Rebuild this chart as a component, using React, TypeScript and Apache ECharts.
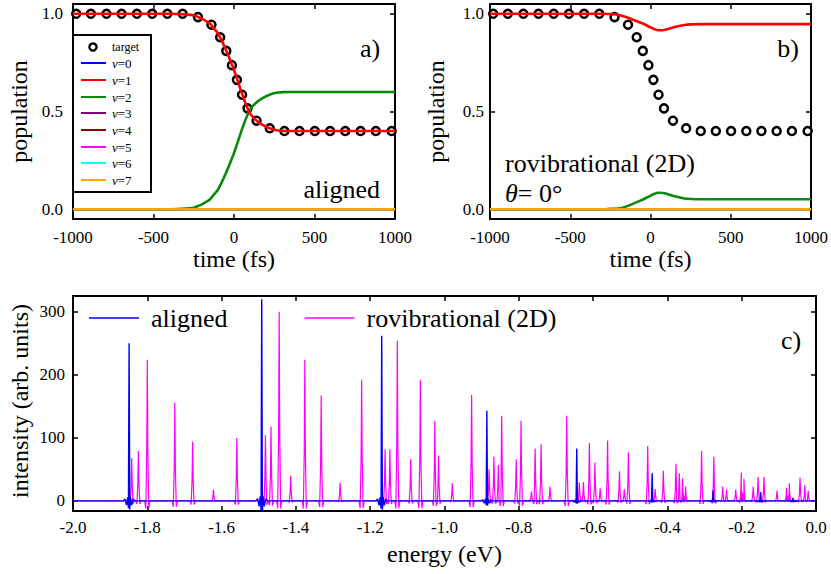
import React, { useEffect, useRef } from "react";
import * as echarts from "echarts";

const FONT = "'Liberation Serif', serif";

// ---- panel a / b data ----
const targetTime = [-980, -889, -792, -698, -603, -508, -414, -319, -224, -140, -86, -48, -13, 18, 50, 84, 140, 222, 313, 407, 502, 597, 691, 786, 881, 979];
const targetPop = [1, 1, 1, 1, 1, 1, 1, 1, 0.983, 0.944, 0.88, 0.81, 0.737, 0.662, 0.586, 0.516, 0.453, 0.414, 0.4, 0.4, 0.4, 0.4, 0.4, 0.4, 0.4, 0.4];

const timeA = [-1000, -400, -300, -250, -225, -200, -175, -150, -125, -100, -75, -50, -25, 0, 25, 50, 75, 100, 125, 150, 175, 200, 225, 250, 275, 300, 350, 1000];
const redA = [1, 1, 0.997, 0.992, 0.984, 0.975, 0.963, 0.95, 0.925, 0.9, 0.86, 0.815, 0.765, 0.712, 0.652, 0.59, 0.535, 0.49, 0.465, 0.447, 0.433, 0.422, 0.413, 0.407, 0.403, 0.401, 0.4, 0.4];
const greenA = [0, 0, 0.003, 0.008, 0.016, 0.025, 0.037, 0.05, 0.075, 0.1, 0.14, 0.185, 0.235, 0.288, 0.348, 0.41, 0.465, 0.51, 0.535, 0.553, 0.567, 0.578, 0.587, 0.593, 0.597, 0.599, 0.6, 0.6];

const timeB = [-1000, -300, -250, -200, -158, -100, -60, -35, 0, 25, 47, 75, 100, 150, 212, 260, 300, 1000];
const redB = [1, 1, 0.998, 0.995, 0.985, 0.967, 0.954, 0.945, 0.93, 0.921, 0.916, 0.916, 0.92, 0.932, 0.943, 0.946, 0.947, 0.947];
const greenB = [0, 0, 0.002, 0.004, 0.012, 0.031, 0.045, 0.055, 0.07, 0.079, 0.084, 0.083, 0.079, 0.066, 0.055, 0.052, 0.051, 0.051];

const timeZero = [-1000, 1000];
const popZero = [0, 0];

const levelLabels = ["0", "1", "2", "3", "4", "5", "6", "7"];
const levelColors = ["#0000ff", "#ff0000", "#0a8a0a", "#800080", "#8b0000", "#ff00ff", "#00ffff", "#ffa500"];

const popTicks = [0, 0.5, 1];

// ---- panel c data ----
const alignedEnergy = [-1.849, -1.492, -1.169, -0.886, -0.644, -0.441, -0.277, -0.149, -0.062];
const alignedIntensity = [250, 320, 262, 143, 83, 44, 17, 14, 5];

const rovibEnergy = [-1.842, -1.824, -1.8, -1.726, -1.678, -1.622, -1.559, -1.482, -1.467, -1.445, -1.414, -1.376, -1.332, -1.281, -1.223, -1.16, -1.147, -1.127, -1.091, -1.065, -1.026, -1.016, -0.979, -0.927, -0.88, -0.867, -0.855, -0.846, -0.807, -0.794, -0.766, -0.756, -0.74, -0.716, -0.671, -0.637, -0.626, -0.61, -0.595, -0.581, -0.561, -0.529, -0.516, -0.505, -0.453, -0.433, -0.411, -0.377, -0.368, -0.359, -0.351, -0.308, -0.275, -0.251, -0.241, -0.216, -0.201, -0.194, -0.169, -0.156, -0.14, -0.105, -0.079, -0.072, -0.043, -0.03, -0.021];
const rovibIntensity = [68, 79, 224, 156, 94, 18, 100, 104, 118, 300, 40, 224, 167, 29, 192, 82, 82, 254, 66, 192, 127, 72, 28, 168, 50, 70, 57, 135, 66, 127, 15, 83, 90, 23, 135, 29, 30, 92, 61, 20, 96, 47, 19, 77, 87, 19, 48, 59, 44, 36, 23, 79, 70, 23, 18, 18, 45, 35, 23, 38, 38, 16, 21, 28, 37, 25, 16];

const energyRange = [-2, 0];
const intensityTicks = [0, 100, 200, 300];

function spikeLine(energy: number[], height: number[], ringing: boolean): number[][] {
  const pts: number[][] = [[energyRange[0], 0], [energyRange[1], 0]];
  energy.forEach((e, i) => {
    const h = height[i];
    if (ringing) {
      const s = Math.max(0.15, h / 260);
      pts.push(
        [e - 0.016, 0], [e - 0.011, 3 * s], [e - 0.007, -7 * s], [e - 0.004, 6 * s], [e - 0.0018, -12 * s],
        [e, h],
        [e + 0.0018, -14 * s], [e + 0.004, 6 * s], [e + 0.007, -7 * s], [e + 0.011, 3 * s], [e + 0.016, 0]
      );
    } else {
      const d = Math.min(12, h * 0.06);
      pts.push([e - 0.007, 0], [e - 0.004, -d], [e - 0.0015, h * 0.35], [e, h], [e + 0.0015, h * 0.35], [e + 0.004, -d], [e + 0.007, 0]);
    }
  });
  pts.sort((p, q) => p[0] - q[0]);
  return pts;
}

const zip = (xs: number[], ys: number[]) => xs.map((x, i) => [x, ys[i]]);

export default function App() {
  const ref = useRef<HTMLDivElement>(null);
  useEffect(() => {
    if (!ref.current) return;
    const chart = echarts.init(ref.current, undefined, { renderer: "svg" });

    const axisLine = { show: true, onZero: false, lineStyle: { color: "#000", width: 2 } };
    const tick = (vals?: number[]) => ({
      show: true,
      inside: true,
      length: 5,
      lineStyle: { color: "#000", width: 1.5 },
      ...(vals ? { customValues: vals } : {}),
    });
    const lbl = { color: "#000", fontSize: 17, fontFamily: FONT };
    const nameStyle = { color: "#000", fontSize: 24, fontFamily: FONT };

    const xTime = (gi: number) => [
      {
        type: "value", gridIndex: gi, position: "bottom", min: -1000, max: 1000, interval: 500,
        axisLine, axisTick: tick(), splitLine: { show: false },
        axisLabel: { ...lbl, margin: 10, formatter: (v: number) => String(v) },
        name: "time (fs)", nameLocation: "middle", nameGap: 24, nameTextStyle: nameStyle,
      },
      {
        type: "value", gridIndex: gi, position: "top", min: -1000, max: 1000, interval: 500,
        axisLine, axisTick: tick(), splitLine: { show: false }, axisLabel: { show: false },
      },
    ];
    const yPop = (gi: number, margin: number, gap: number) => [
      {
        type: "value", gridIndex: gi, position: "left", min: -0.05, max: 1.05,
        axisLine, axisTick: tick(popTicks), splitLine: { show: false },
        axisLabel: { ...lbl, margin, customValues: popTicks, formatter: (v: number) => v.toFixed(1) },
        name: "population", nameLocation: "middle", nameGap: gap, nameTextStyle: nameStyle,
      },
      {
        type: "value", gridIndex: gi, position: "right", min: -0.05, max: 1.05,
        axisLine, axisTick: tick(popTicks), splitLine: { show: false },
        axisLabel: { show: false, customValues: popTicks },
      },
    ];

    const xAxis = [
      ...xTime(0),
      ...xTime(1),
      {
        type: "value", gridIndex: 2, position: "bottom", min: -2, max: 0, interval: 0.2,
        axisLine, axisTick: tick(), splitLine: { show: false },
        axisLabel: { ...lbl, margin: 8, formatter: (v: number) => (Math.abs(v) < 1e-9 ? "0.0" : v.toFixed(1)) },
        name: "energy (eV)", nameLocation: "middle", nameGap: 31, nameTextStyle: nameStyle,
      },
      {
        type: "value", gridIndex: 2, position: "top", min: -2, max: 0, interval: 0.2,
        axisLine, axisTick: tick(), splitLine: { show: false }, axisLabel: { show: false },
      },
    ];
    const yAxis = [
      ...yPop(0, 10, 42),
      ...yPop(1, 6, 42),
      {
        type: "value", gridIndex: 2, position: "left", min: -16, max: 325,
        axisLine, axisTick: tick(intensityTicks), splitLine: { show: false },
        axisLabel: { ...lbl, margin: 8, customValues: intensityTicks },
      },
      {
        type: "value", gridIndex: 2, position: "right", min: -16, max: 325,
        axisLine, axisTick: tick(intensityTicks), splitLine: { show: false },
        axisLabel: { show: false, customValues: intensityTicks },
      },
    ];

    const popSeries = (xi: number, yi: number, time: number[], red: number[], green: number[]) => {
      const line = (k: number, data: number[][]) => ({
        type: "line", name: "ν=" + levelLabels[k], xAxisIndex: xi, yAxisIndex: yi,
        data, symbol: "none", smooth: 0.3,
        lineStyle: { color: levelColors[k], width: 2.6 }, silent: true,
      });
      return [
        {
          type: "scatter", name: "target", xAxisIndex: xi, yAxisIndex: yi,
          data: zip(targetTime, targetPop), symbol: "circle", symbolSize: 8,
          itemStyle: { color: "#fff", borderColor: "#000", borderWidth: 2.5, opacity: 1 }, silent: true,
        },
        line(0, zip(timeZero, popZero)),
        line(3, zip(timeZero, popZero)),
        line(4, zip(timeZero, popZero)),
        line(5, zip(timeZero, popZero)),
        line(6, zip(timeZero, popZero)),
        line(2, zip(time, green)),
        line(1, zip(time, red)),
        line(7, zip(timeZero, popZero)),
      ];
    };

    const series = [
      ...popSeries(0, 0, timeA, redA, greenA),
      ...popSeries(2, 2, timeB, redB, greenB),
      {
        type: "line", name: "rovibrational (2D)", xAxisIndex: 4, yAxisIndex: 4,
        data: spikeLine(rovibEnergy, rovibIntensity, false), symbol: "none",
        lineStyle: { color: "#ff00ff", width: 1.2 }, itemStyle: { color: "#ff00ff" }, silent: true,
      },
      {
        type: "line", name: "aligned", xAxisIndex: 4, yAxisIndex: 4,
        data: spikeLine(alignedEnergy, alignedIntensity, true), symbol: "none",
        lineStyle: { color: "#0000ff", width: 1.4 }, itemStyle: { color: "#0000ff" }, silent: true,
      },
    ];

    const legendY = [63, 80, 97, 113, 130, 147, 163, 180];
    const graphic: any[] = [
      { type: "rect", shape: { x: 73, y: 35, width: 78, height: 157 }, style: { fill: "#fff", stroke: "#000", lineWidth: 2 }, z: 100 },
      { type: "circle", shape: { cx: 93, cy: 47, r: 3.6 }, style: { fill: "none", stroke: "#000", lineWidth: 2.4 }, z: 101 },
      { type: "text", x: 112, y: 47, style: { text: "target", fill: "#000", fontSize: 12, fontFamily: FONT, textVerticalAlign: "middle" }, z: 101 },
    ];
    levelLabels.forEach((lab, k) => {
      graphic.push({ type: "line", shape: { x1: 81, y1: legendY[k], x2: 106, y2: legendY[k] }, style: { stroke: levelColors[k], lineWidth: 2 }, z: 101 });
      graphic.push({
        type: "text", x: 112, y: legendY[k], z: 101,
        style: {
          text: "{i|ν}=" + lab, fill: "#000", fontSize: 13, fontFamily: FONT, textVerticalAlign: "middle",
          rich: { i: { fontStyle: "italic", fontSize: 13, fontFamily: FONT } },
        },
      });
    });
    const note = (text: string, x: number, y: number, align: string, extra: any = {}) => ({
      type: "text", x, y, z: 101,
      style: { text, fill: "#000", fontSize: 26, fontFamily: FONT, textAlign: align, textVerticalAlign: "middle", ...extra },
    });
    graphic.push(note("a)", 370, 48, "center"));
    graphic.push(note("aligned", 380, 189, "right"));
    graphic.push(note("b)", 788, 48, "center"));
    graphic.push(note("rovibrational (2D)", 505, 163, "left"));
    graphic.push(note("{i|θ}= 0°", 505, 193, "left", { rich: { i: { fontStyle: "italic", fontSize: 26, fontFamily: FONT } } }));
    graphic.push(note("c)", 791, 340, "center"));
    graphic.push({
      type: "text", x: 20, y: 401, rotation: Math.PI / 2, z: 101,
      style: { text: "intensity (arb. units)", fill: "#000", fontSize: 24, fontFamily: FONT, textAlign: "center", textVerticalAlign: "middle" },
    });

    chart.setOption({
      animation: false,
      backgroundColor: "#fff",
      textStyle: { fontFamily: FONT },
      grid: [
        { left: 73, top: 4, width: 322, height: 215 },
        { left: 490, top: 4, width: 324, height: 215 },
        { left: 73, top: 296, width: 743, height: 215 },
      ],
      legend: {
        data: [
          { name: "aligned", icon: "rect" },
          { name: "rovibrational (2D)", icon: "rect" },
        ],
        left: 89, top: 305, orient: "horizontal", padding: 0,
        itemWidth: 50, itemHeight: 1.5, itemGap: 77,
        textStyle: { fontSize: 26, fontFamily: FONT, color: "#000", padding: [0, 0, 0, 7] },
        selectedMode: false,
      },
      xAxis,
      yAxis,
      series,
      graphic,
    } as any);
    return () => chart.dispose();
  }, []);
  return <div ref={ref} style={{ position: "absolute", left: 0, top: 0, width: 831, height: 574 }} />;
}
